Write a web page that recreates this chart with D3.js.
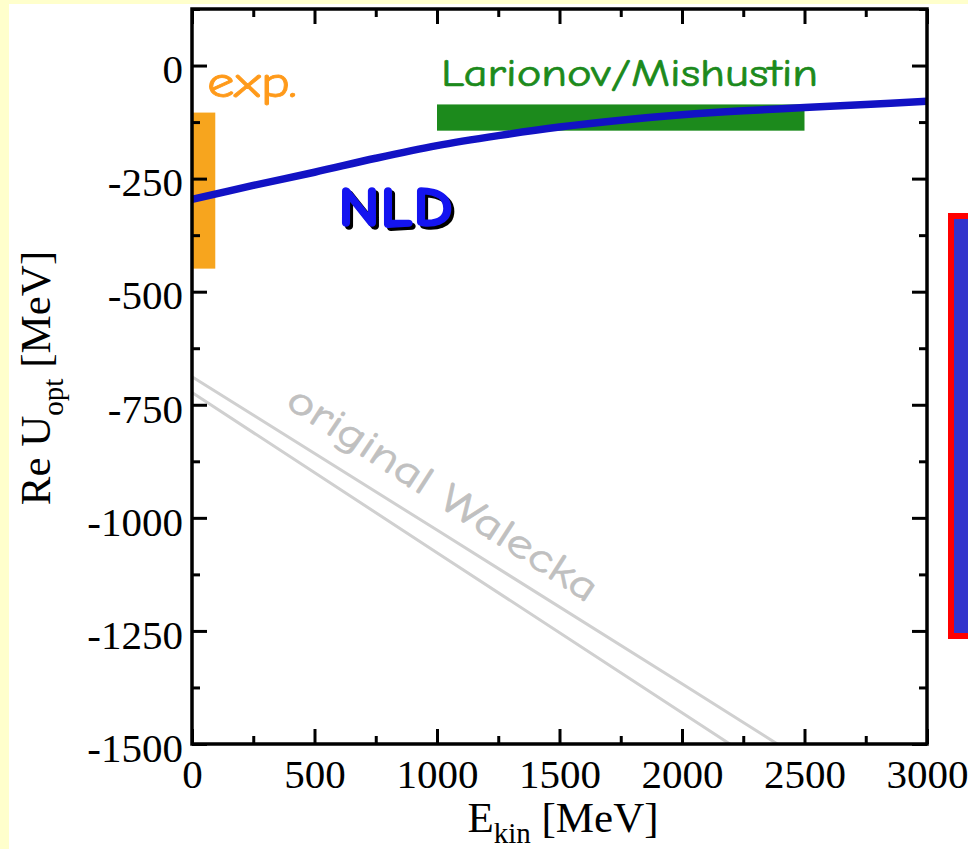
<!DOCTYPE html>
<html>
<head>
<meta charset="utf-8">
<script src="https://cdn.jsdelivr.net/npm/d3@7"></script>
<style>
  body { margin: 0; background: #ffffcc; }
  svg { display: block; }
</style>
</head>
<body>
<svg id="chart" width="968" height="849"></svg>
<script>
// tick values
const xTicks = [0, 500, 1000, 1500, 2000, 2500, 3000];
const xMinor = [250, 750, 1250, 1750, 2250, 2750];
const yTicks = [0, -250, -500, -750, -1000, -1250, -1500];
const yMinor = [125, -125, -375, -625, -875, -1125, -1375];

// NLD optical potential
const nldE = [0, 250, 500, 750, 1000, 1250, 1500, 1750, 2000, 2250, 2500, 2750, 3000];
const nldU = [-296, -265, -236, -205, -177, -155, -136, -121, -109, -100, -93, -86, -79];

// original Walecka (two lines)
const waleckaE = [0, 1000, 2000, 2600];
const waleckaU1 = [-688, -1027, -1367, -1572];
const waleckaU2 = [-723, -1077, -1431, -1643];

// bands
const expE = [0, 95];
const expU = [-449, -104];
const larE = [1000, 2500];
const larU = [-144, -86];

const svg = d3.select("#chart");
const W = 968, H = 849;

// yellow frame + white page
svg.append("rect").attr("width", W).attr("height", H).attr("fill", "#ffffcc");
svg.append("rect").attr("x", 9).attr("y", 4).attr("width", W - 9).attr("height", H - 4).attr("fill", "#ffffff");

const x = d3.scaleLinear().domain([0, 3000]).range([192, 927]);
const y = d3.scaleLinear().domain([-1500, 125]).range([744, 9]);

svg.append("clipPath").attr("id", "plotclip")
  .append("rect")
  .attr("x", x(0)).attr("y", y(125))
  .attr("width", x(3000) - x(0)).attr("height", y(-1500) - y(125));

const plot = svg.append("g").attr("clip-path", "url(#plotclip)");

// exp. band
plot.append("rect")
  .attr("x", x(expE[0])).attr("width", x(expE[1]) - x(expE[0]))
  .attr("y", y(expU[1])).attr("height", y(expU[0]) - y(expU[1]))
  .attr("fill", "#f7a51e");

// Larionov/Mishustin band
plot.append("rect")
  .attr("x", x(larE[0])).attr("width", x(larE[1]) - x(larE[0]))
  .attr("y", y(larU[1])).attr("height", y(larU[0]) - y(larU[1]))
  .attr("fill", "#1c8a1c");

// Walecka lines
const line = d3.line().x(d => x(d[0])).y(d => y(d[1]));
[waleckaU1, waleckaU2].forEach(us => {
  plot.append("path")
    .attr("d", line(waleckaE.map((e, i) => [e, us[i]])))
    .attr("fill", "none")
    .attr("stroke", "#d0d0d0")
    .attr("stroke-width", 3);
});

// NLD curve
plot.append("path")
  .attr("d", line.curve(d3.curveCatmullRom)(nldE.map((e, i) => [e, nldU[i]])))
  .attr("fill", "none")
  .attr("stroke", "#1212c4")
  .attr("stroke-width", 7.5);

// axes
const serif = "'Liberation Serif', 'Times New Roman', serif";
const fmt = d => String(d);

function styleAxis(g) {
  g.select(".domain").remove();
  g.selectAll(".tick line").attr("stroke", "#000").attr("stroke-width", 3);
  g.selectAll("text").attr("font-family", serif).attr("font-size", 41).attr("fill", "#000");
}

svg.append("g").attr("transform", `translate(0,${y(-1500)})`)
  .call(d3.axisBottom(x).tickValues(xTicks).tickFormat(fmt).tickSizeInner(-15).tickSizeOuter(0).tickPadding(15))
  .call(styleAxis);
svg.append("g").attr("transform", `translate(0,${y(-1500)})`)
  .call(d3.axisBottom(x).tickValues(xMinor).tickFormat("").tickSizeInner(-8).tickSizeOuter(0))
  .call(styleAxis);
svg.append("g").attr("transform", `translate(0,${y(125)})`)
  .call(d3.axisTop(x).tickValues(xTicks).tickFormat("").tickSizeInner(-15).tickSizeOuter(0))
  .call(styleAxis);
svg.append("g").attr("transform", `translate(0,${y(125)})`)
  .call(d3.axisTop(x).tickValues(xMinor).tickFormat("").tickSizeInner(-8).tickSizeOuter(0))
  .call(styleAxis);

const yl = svg.append("g").attr("transform", `translate(${x(0)},0)`)
  .call(d3.axisLeft(y).tickValues(yTicks).tickFormat(fmt).tickSizeInner(-15).tickSizeOuter(0).tickPadding(9))
  .call(styleAxis);
yl.selectAll("text").attr("dy", "0.42em");
svg.append("g").attr("transform", `translate(${x(0)},0)`)
  .call(d3.axisLeft(y).tickValues(yMinor).tickFormat("").tickSizeInner(-8).tickSizeOuter(0))
  .call(styleAxis);
svg.append("g").attr("transform", `translate(${x(3000)},0)`)
  .call(d3.axisRight(y).tickValues(yTicks).tickFormat("").tickSizeInner(-15).tickSizeOuter(0))
  .call(styleAxis);
svg.append("g").attr("transform", `translate(${x(3000)},0)`)
  .call(d3.axisRight(y).tickValues(yMinor).tickFormat("").tickSizeInner(-8).tickSizeOuter(0))
  .call(styleAxis);

// frame
svg.append("rect")
  .attr("x", x(0)).attr("y", y(125))
  .attr("width", x(3000) - x(0)).attr("height", y(-1500) - y(125))
  .attr("fill", "none").attr("stroke", "#000").attr("stroke-width", 3.5);

// axis titles
const xt = svg.append("text")
  .attr("x", 563).attr("y", 832)
  .attr("text-anchor", "middle")
  .attr("font-family", serif).attr("font-size", 43).attr("fill", "#000");
xt.append("tspan").text("E");
xt.append("tspan").attr("font-size", 29).attr("dy", 11).text("kin");
xt.append("tspan").attr("dy", -11).text(" [MeV]");

const yt = svg.append("text")
  .attr("transform", "translate(50,378) rotate(-90)")
  .attr("text-anchor", "middle")
  .attr("font-family", serif).attr("font-size", 43).attr("fill", "#000");
yt.append("tspan").text("Re U");
yt.append("tspan").attr("font-size", 29).attr("dy", 13).text("opt");
yt.append("tspan").attr("dy", -13).text(" [MeV]");

// annotations
const comic = "'Comic Sans MS', 'Comic Neue', 'DejaVu Sans', sans-serif";

svg.append("text")
  .attr("x", 207).attr("y", 97)
  .attr("font-family", comic).attr("font-size", 44).attr("fill", "#ff9a1a")
  .attr("stroke", "#ff9a1a").attr("stroke-width", 0.8)
  .attr("textLength", 90).attr("lengthAdjust", "spacingAndGlyphs")
  .text("exp.");

svg.append("text")
  .attr("x", 441).attr("y", 86)
  .attr("font-family", comic).attr("font-size", 38).attr("fill", "#1c8a1c")
  .attr("stroke", "#1c8a1c").attr("stroke-width", 0.7)
  .attr("textLength", 377).attr("lengthAdjust", "spacingAndGlyphs")
  .text("Larionov/Mishustin");

// NLD with black shadow
[["#000", 3, 3], ["#1414f0", 0, 0]].forEach(([c, dx, dy]) => {
  svg.append("text")
    .attr("x", 338 + dx).attr("y", 226 + dy)
    .attr("font-family", comic).attr("font-weight", "bold").attr("font-size", 56)
    .attr("fill", c).attr("stroke", c).attr("stroke-width", 1.5)
    .attr("textLength", 115).attr("lengthAdjust", "spacingAndGlyphs")
    .text("NLD");
});

svg.append("text")
  .attr("transform", "translate(284,406) rotate(33)")
  .attr("font-family", comic).attr("font-size", 41).attr("fill", "#c0c0c0")
  .attr("stroke", "#c0c0c0").attr("stroke-width", 0.6)
  .attr("textLength", 362).attr("lengthAdjust", "spacingAndGlyphs")
  .text("original Walecka");

// partial box at right edge
svg.append("rect")
  .attr("x", 951).attr("y", 216).attr("width", 40).attr("height", 420)
  .attr("fill", "#3333cc").attr("stroke", "#ff0000").attr("stroke-width", 6);
</script>
</body>
</html>
